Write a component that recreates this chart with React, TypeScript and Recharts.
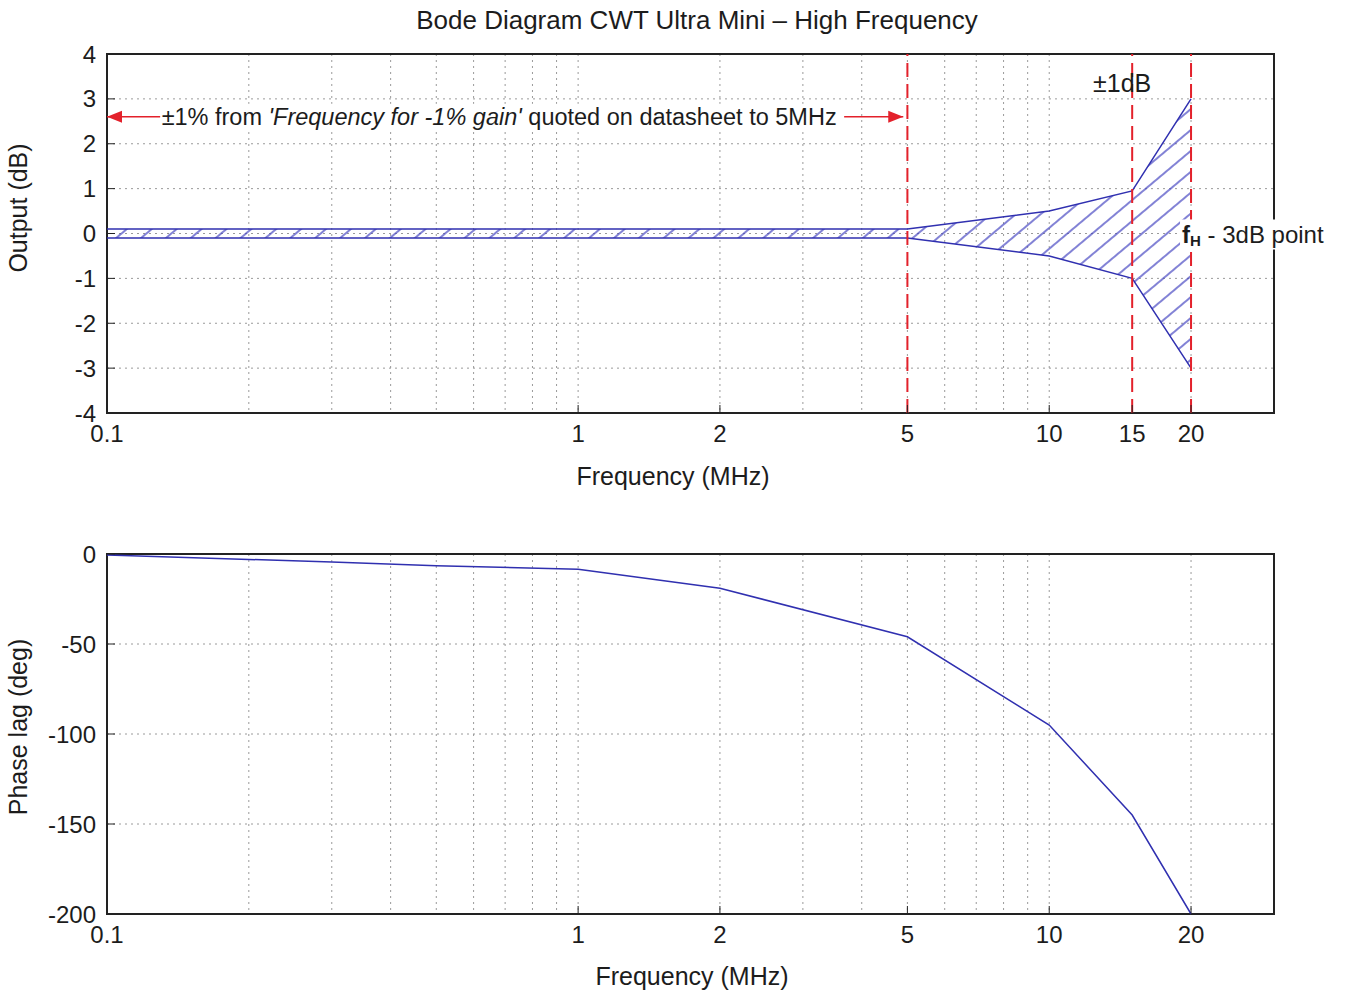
import React from "react";
import {
  ComposedChart,
  Line,
  Area,
  XAxis,
  YAxis,
  CartesianGrid,
  ReferenceLine,
  ReferenceArea,
  ReferenceDot,
} from "recharts";

// Frequency axis (MHz), log scale
const freqDomain = [0.1, 30];
const gainFreqTicks = [0.1, 1, 2, 5, 10, 15, 20];
const phaseFreqTicks = [0.1, 1, 2, 5, 10, 20];
const gridFreqs = [0.2, 0.3, 0.4, 0.5, 0.6, 0.7, 0.8, 0.9, 1, 2, 3, 4, 5, 6, 7, 8, 9, 10, 20];

// Gain tolerance band (dB)
const bandFreq = [0.1, 5, 10, 15, 20];
const bandUpper = [0.1, 0.1, 0.5, 0.95, 3];
const bandLower = [-0.1, -0.1, -0.5, -1, -3];
const gainTicks = [-4, -3, -2, -1, 0, 1, 2, 3, 4];
const markerFreqs = [5, 15, 20];

// annotations
const arrowFrom = 0.1;
const arrowTo = 4.9;
const arrowLevel = 2.6;
const arrowMid = 0.7;
const oneDbLabel = { f: 15, y: 3.35 };
const fhLabel = { f: 20, y: 0 };

// Phase lag (deg)
const phaseFreq = [0.1, 0.2, 0.3, 0.5, 1, 2, 5, 10, 15, 20];
const phaseLag = [-0.5, -3, -4.5, -6.5, -8.5, -19, -46, -95, -145, -200];
const phaseTicks = [-200, -150, -100, -50, 0];

const bandData = bandFreq.map((f, i) => ({ f, upper: bandUpper[i], lower: bandLower[i] }));
const phaseData = phaseFreq.map((f, i) => ({ f, phase: phaseLag[i] }));

const RED = "#e3212b";
const BLUE = "#3030b0";
const TXT = "#1c1c1c";
const GRID = "#9a9a9a";

const tickStyle = { fontSize: 24, fill: TXT };

function HtmlLabel({ x, y, text, rotate, size = 25 }: any) {
  return (
    <div
      style={{
        position: "absolute",
        left: x,
        top: y,
        transform: `translate(-50%, -50%)${rotate ? " rotate(-90deg)" : ""}`,
        fontSize: size,
        color: TXT,
        whiteSpace: "nowrap",
      }}
    >
      {text}
    </div>
  );
}

function GainChart() {
  return (
    <ComposedChart
      width={1353}
      height={500}
      data={bandData}
      margin={{ top: 54, right: 79, bottom: 37, left: 47 }}
    >
      <defs>
        <pattern id="hatch" patternUnits="userSpaceOnUse" width="16" height="16" patternTransform="rotate(50)">
          <line x1="1" y1="0" x2="1" y2="16" stroke="#3f3fbf" strokeWidth="1.3" />
        </pattern>
      </defs>
      <CartesianGrid stroke={GRID} strokeDasharray="2 4" verticalValues={gridFreqs} />
      <XAxis
        dataKey="f"
        type="number"
        scale="log"
        domain={freqDomain}
        allowDataOverflow
        ticks={gainFreqTicks}
        interval={0}
        height={50}
        tickSize={-8}
        tickMargin={20}
        axisLine={false}
        tickLine={{ stroke: "#222" }}
        tick={tickStyle}
      />
      <YAxis
        type="number"
        domain={[-4, 4]}
        ticks={gainTicks}
        interval={0}
        width={60}
        tickSize={-8}
        tickMargin={19}
        axisLine={false}
        tickLine={{ stroke: "#222" }}
        tick={tickStyle}
      />
      <Area
        type="linear"
        dataKey={(d: any) => [d.lower, d.upper]}
        fill="url(#hatch)"
        fillOpacity={1}
        stroke="none"
        isAnimationActive={false}
      />
      <Line type="linear" dataKey="upper" stroke={BLUE} strokeWidth={1.5} dot={false} isAnimationActive={false} />
      <Line type="linear" dataKey="lower" stroke={BLUE} strokeWidth={1.5} dot={false} isAnimationActive={false} />
      {markerFreqs.map((f) => (
        <ReferenceLine key={f} x={f} stroke={RED} strokeWidth={2} strokeDasharray="14 7" />
      ))}
      <ReferenceLine
        segment={[
          { x: arrowFrom, y: arrowLevel },
          { x: arrowTo, y: arrowLevel },
        ]}
        stroke={RED}
        strokeWidth={1.5}
      />
      <ReferenceArea
        x1={freqDomain[0]}
        x2={freqDomain[1]}
        y1={-4}
        y2={4}
        fill="none"
        stroke="#222"
        strokeWidth={2}
      />
      <ReferenceDot
        x={arrowFrom}
        y={arrowLevel}
        zIndex={2500}
        shape={(p: any) => <path d={`M${p.cx},${p.cy} l15,-6 l0,12 z`} fill={RED} />}
      />
      <ReferenceDot
        x={arrowTo}
        y={arrowLevel}
        zIndex={2500}
        shape={(p: any) => <path d={`M${p.cx},${p.cy} l-15,-6 l0,12 z`} fill={RED} />}
      />
      <ReferenceDot
        x={arrowMid}
        y={arrowLevel}
        zIndex={2500}
        shape={(p: any) => (
          <g>
            <rect x={p.cx - 345} y={p.cy - 13} width={684} height={26} fill="#fff" />
            <text x={p.cx - 6} y={p.cy} textAnchor="middle" dominantBaseline="central" fontSize={23.5} fill={TXT}>
              {"±1% from "}
              <tspan fontStyle="italic">{"'Frequency for -1% gain'"}</tspan>
              {" quoted on datasheet to 5MHz"}
            </text>
          </g>
        )}
      />
      <ReferenceDot
        x={oneDbLabel.f}
        y={oneDbLabel.y}
        zIndex={2500}
        shape={(p: any) => (
          <text x={p.cx - 10} y={p.cy} textAnchor="middle" dominantBaseline="central" fontSize={25} fill={TXT}>
            ±1dB
          </text>
        )}
      />
      <ReferenceDot
        x={fhLabel.f}
        y={fhLabel.y}
        zIndex={2500}
        shape={(p: any) => (
          <g>
            <rect x={p.cx - 11} y={p.cy - 14} width={162} height={30} fill="#fff" />
            <text x={p.cx - 9} y={p.cy} dominantBaseline="central" fontSize={24} fill={TXT}>
              <tspan fontWeight="bold">f</tspan>
              <tspan fontWeight="bold" fontSize={15} dy={6}>H</tspan>
              <tspan dy={-6}>{" - 3dB point"}</tspan>
            </text>
          </g>
        )}
      />
    </ComposedChart>
  );
}

function PhaseChart() {
  return (
    <ComposedChart
      width={1353}
      height={497}
      data={phaseData}
      margin={{ top: 54, right: 79, bottom: 33, left: 47 }}
    >
      <CartesianGrid stroke={GRID} strokeDasharray="2 4" verticalValues={gridFreqs} />
      <XAxis
        dataKey="f"
        type="number"
        scale="log"
        domain={freqDomain}
        allowDataOverflow
        ticks={phaseFreqTicks}
        interval={0}
        height={50}
        tickSize={-8}
        tickMargin={20}
        axisLine={false}
        tickLine={{ stroke: "#222" }}
        tick={tickStyle}
      />
      <YAxis
        type="number"
        domain={[-200, 0]}
        ticks={phaseTicks}
        interval={0}
        width={60}
        tickSize={-8}
        tickMargin={19}
        axisLine={false}
        tickLine={{ stroke: "#222" }}
        tick={tickStyle}
      />
      <Line type="linear" dataKey="phase" stroke={BLUE} strokeWidth={1.5} dot={false} isAnimationActive={false} />
      <ReferenceArea
        x1={freqDomain[0]}
        x2={freqDomain[1]}
        y1={-200}
        y2={0}
        fill="none"
        stroke="#222"
        strokeWidth={2}
      />
    </ComposedChart>
  );
}

export default function App() {
  return (
    <div
      style={{
        position: "absolute",
        left: 0,
        top: 0,
        width: 1353,
        height: 997,
        background: "#fff",
        fontFamily: "'Liberation Sans', Arial, sans-serif",
        overflow: "hidden",
      }}
    >
      <HtmlLabel x={697} y={20} text="Bode Diagram CWT Ultra Mini – High Frequency" size={26} />
      <div style={{ position: "absolute", left: 0, top: 0 }}>
        <GainChart />
      </div>
      <div style={{ position: "absolute", left: 0, top: 500 }}>
        <PhaseChart />
      </div>
      <HtmlLabel x={673} y={476} text="Frequency (MHz)" />
      <HtmlLabel x={692} y={976} text="Frequency (MHz)" />
      <HtmlLabel x={18} y={208} text="Output (dB)" rotate />
      <HtmlLabel x={18} y={727} text="Phase lag (deg)" rotate />
    </div>
  );
}
